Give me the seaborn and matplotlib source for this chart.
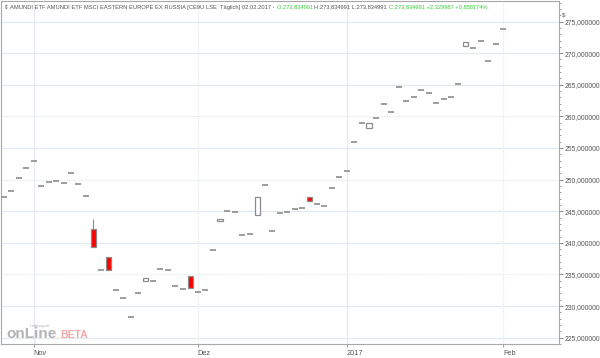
import numpy as np
import matplotlib
matplotlib.use("Agg")
import matplotlib.pyplot as plt
import seaborn as sns

# ---------------- data ----------------
opens = [247.3, 248.2, 250.3, 251.8, 253.0, 249.0, 249.6, 249.8, 249.5, 251.1,
         249.3, 247.4, 242.2, 235.7, 237.8, 232.5, 231.3, 228.2, 232.0, 233.9,
         233.9, 235.9, 235.7, 233.2, 232.7, 234.7, 232.2, 232.6, 238.8, 243.4,
         245.1, 244.8, 241.3, 241.4, 244.4, 249.1, 241.8, 244.7, 244.9, 245.4,
         245.5, 247.3, 246.1, 245.9, 248.6, 250.4, 251.4, 256.0, 258.9, 258.2,
         259.7, 261.9, 260.7, 264.6, 262.5, 263.1, 264.2, 263.7, 262.1, 262.8,
         263.1, 265.2, 271.2, 270.8, 272.0, 268.8, 271.4, 273.8]
closes = [247.3, 248.2, 250.3, 251.8, 253.0, 249.0, 249.6, 249.8, 249.5, 251.1,
          249.3, 247.4, 239.3, 235.7, 235.7, 232.5, 231.3, 228.2, 232.0, 234.5,
          233.9, 235.9, 235.7, 233.2, 232.7, 232.8, 232.2, 232.6, 238.8, 243.8,
          245.1, 244.8, 241.3, 241.4, 247.3, 249.1, 241.8, 244.7, 244.9, 245.4,
          245.5, 246.6, 246.1, 245.9, 248.6, 250.4, 251.4, 256.0, 258.9, 258.9,
          259.7, 261.9, 260.7, 264.6, 262.5, 263.1, 264.2, 263.7, 262.1, 262.8,
          263.1, 265.2, 271.7, 270.8, 272.0, 268.8, 271.4, 273.8]
highs = [247.3, 248.2, 250.3, 251.8, 253.0, 249.0, 249.6, 249.8, 249.5, 251.1,
         249.3, 247.4, 243.8, 235.7, 237.8, 232.5, 231.3, 228.2, 232.0, 234.5,
         233.9, 235.9, 235.7, 233.2, 232.7, 234.7, 232.2, 232.6, 238.8, 243.8,
         245.1, 244.8, 241.3, 241.4, 247.3, 249.1, 241.8, 244.7, 244.9, 245.4,
         245.5, 247.3, 246.1, 245.9, 248.6, 250.4, 251.4, 256.0, 258.9, 258.9,
         259.7, 261.9, 260.7, 264.6, 262.5, 263.1, 264.2, 263.7, 262.1, 262.8,
         263.1, 265.2, 271.7, 270.8, 272.0, 268.8, 271.4, 273.8]
lows = [247.3, 248.2, 250.3, 251.8, 253.0, 249.0, 249.6, 249.8, 249.5, 251.1,
        249.3, 247.4, 239.3, 235.7, 235.7, 232.5, 231.3, 228.2, 232.0, 233.9,
        233.9, 235.9, 235.7, 233.2, 232.7, 232.8, 232.2, 232.6, 238.8, 243.4,
        245.1, 244.8, 241.3, 241.4, 244.4, 249.1, 241.8, 244.7, 244.9, 245.4,
        245.5, 246.6, 246.1, 245.9, 248.6, 250.4, 251.4, 256.0, 258.9, 258.2,
        259.7, 261.9, 260.7, 264.6, 262.5, 263.1, 264.2, 263.7, 262.1, 262.8,
        263.1, 265.2, 271.2, 270.8, 272.0, 268.8, 271.4, 273.8]

month_tick_idx = [4, 26, 46, 67]
month_labels = ["Nov", "Dez", "2017", "Feb"]
y_ticks = [225, 230, 235, 240, 245, 250, 255, 260, 265, 270, 275]

# ---------------- styling ----------------
sns.set_style("white")
plt.rcParams["font.family"] = ["Liberation Sans", "DejaVu Sans"]

W, H = 600, 358
fig = plt.figure(figsize=(W / 100, H / 100), dpi=100)
fig.patch.set_facecolor("white")
ax = fig.add_axes([1 / W, 1 - 344 / H, (559 - 1) / W, (344 - 1) / H])

o = np.array(opens); c = np.array(closes)
hi = np.array(highs); lo = np.array(lows)
idx = np.arange(len(c))

# grid
grid_c = "#e4e9f0"
dotted_y = {235, 250, 260}
for v in y_ticks:
    ax.axhline(v, color=grid_c, lw=0.9, ls=(0, (1, 1)) if v in dotted_y else "-", zorder=0)
for k, t in enumerate(month_tick_idx):
    ax.axvline(t, color=grid_c, lw=0.9, ls="-" if k % 2 == 0 else (0, (1, 1)), zorder=0)

edge = "#8c8c8c"
# wicks
ax.vlines(idx, lo, hi, color=edge, lw=0.8, zorder=2)
# bodies
nd = o != c
body_col = np.where(c[nd] < o[nd], "#ff0000", "white")
ax.bar(idx[nd], np.abs(c[nd] - o[nd]), bottom=np.minimum(o[nd], c[nd]),
       width=0.68, color=body_col, edgecolor=edge, linewidth=0.9, zorder=3)
# doji dashes
d = ~nd
sns.scatterplot(x=idx[d], y=c[d], marker="_", s=18, color=edge,
                linewidth=1.2, ax=ax, zorder=3, legend=False)

ax.set_xlim(-0.4, 74.5)
ax.set_ylim(224.12, 278.25)

# axes / ticks
for s in ax.spines.values():
    s.set_color("#a8a8a8"); s.set_linewidth(0.8)
ax.yaxis.tick_right()
ax.set_yticks(y_ticks)
ax.set_yticks(np.arange(224, 279, 1), minor=True)
ax.set_yticklabels([f"{v:.6f}".replace(".", ",") for v in y_ticks])
ax.tick_params(axis="y", which="major", right=True, left=False, length=3,
               width=0.6, color="#777777", labelsize=4.9, labelcolor="#555555", pad=1.2)
ax.tick_params(axis="y", which="minor", right=True, left=False, length=1.5,
               width=0.5, color="#777777")
ax.set_xticks(month_tick_idx)
ax.set_xticklabels(month_labels, ha="left")
ax.tick_params(axis="x", bottom=True, length=2, width=0.5, color="#777777",
               labelsize=5.3, labelcolor="#555555", pad=2)
ax.set_xlabel(""); ax.set_ylabel("")

# header
hdr_fs = 4.15
parts = [("\u21d5 ", "#555555"),
         ("AMUNDI ETF AMUNDI ETF MSCI EASTERN EUROPE EX RUSSIA [CE9U LSE  T\u00e4glich] 02.02.2017 - ", "#555555"),
         ("O:273,834991 ", "#33cc33"),
         ("H:273,834991 L:273,834991 ", "#555555"),
         ("C:273,834991 +2,329987 +0,858174%", "#33cc33")]
prev = ax.text(3 / 558, 1 - 6 / 343, parts[0][0], transform=ax.transAxes, fontsize=hdr_fs,
               color=parts[0][1], va="center", ha="left")
for txt, col in parts[1:]:
    prev = ax.annotate(txt, xy=(1, 0.5), xycoords=prev, va="center", ha="left",
                       fontsize=hdr_fs, color=col)

fig.text(562 / W, 1 - 15 / H, "$", fontsize=4.5, color="#555555", va="center", ha="left")

# watermark
fig.text(6 / W, 1 - 334 / H, "onLine", fontsize=11, fontweight="bold", color="#b4b4b4",
         va="center", ha="left")
fig.text(60 / W, 1 - 335 / H, "BETA", fontsize=7.5, fontweight="bold", color="#f2a8a8",
         va="center", ha="left")
fig.text(30 / W, 1 - 326 / H, "tradesignal", fontsize=3, color="#b4b4b4",
         va="center", ha="left")

fig.savefig("out.png", dpi=100)
